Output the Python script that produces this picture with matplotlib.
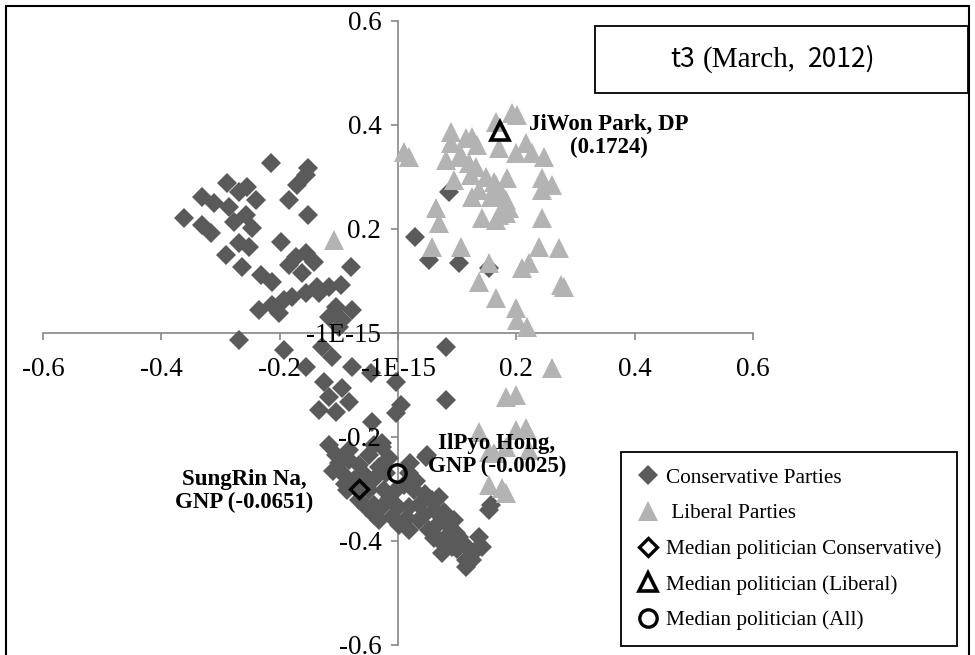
import matplotlib
matplotlib.use("Agg")
import matplotlib.pyplot as plt
from matplotlib.patches import Rectangle

# Conservative Parties (diamonds)
cons_x = [-0.215, -0.152, -0.155, -0.171, -0.184, -0.152, -0.289, -0.255, -0.240, -0.331,
          -0.311, -0.286, -0.362, -0.331, -0.316, -0.277, -0.257, -0.247, -0.269, -0.252,
          -0.291, -0.264, -0.198, -0.172, -0.155, -0.142, -0.184, -0.162, -0.079, -0.232,
          -0.213, -0.137, -0.155, -0.117, -0.096, -0.179, -0.193, -0.235, -0.213, -0.201,
          -0.105, -0.078, -0.117, -0.100, -0.269, -0.134, -0.095,
          -0.269, -0.193, -0.155, -0.128, -0.112, -0.078, -0.046, -0.125, -0.095, -0.117,
          -0.083, -0.134, -0.105, -0.003, 0.005, -0.003, -0.044, 0.081, 0.081,
          -0.105, -0.083, -0.027, -0.095, -0.054, -0.032, 0.019, -0.003, -0.027, -0.010,
          0.019, 0.035, 0.057, 0.069, 0.047, 0.069, 0.081, 0.103, 0.091, 0.074,
          0.115, 0.137, 0.142, 0.154, 0.125, 0.115, -0.027, 0.049, 0.157, 0.098,
          -0.117, -0.083, -0.066, -0.074, -0.049, -0.066, -0.041, -0.024, -0.049, 0.010,
          0.027, 0.035, 0.002, 0.019, 0.044, 0.052, 0.078, 0.095, 0.112, 0.069,
          -0.086, -0.054, -0.032,
          -0.100, -0.110, -0.090, -0.060, -0.040, -0.020, -0.015, -0.040, -0.070, -0.040,
          -0.015, 0.000, 0.015, 0.030, 0.045, 0.060, 0.085, 0.100, 0.130, 0.060, 0.020,
          0.029, 0.052, 0.103, 0.154, 0.086]
cons_y = [0.327, 0.317, 0.304, 0.285, 0.256, 0.227, 0.288, 0.281, 0.256, 0.262,
          0.250, 0.242, 0.221, 0.208, 0.192, 0.213, 0.227, 0.202, 0.173, 0.165,
          0.150, 0.127, 0.175, 0.146, 0.154, 0.137, 0.131, 0.115, 0.127, 0.112,
          0.098, 0.088, 0.077, 0.088, 0.092, 0.069, 0.063, 0.044, 0.054, 0.038,
          0.050, 0.044, 0.031, 0.012, 0.271, 0.077, 0.025,
          -0.013, -0.033, -0.065, -0.027, -0.046, -0.065, -0.077, -0.094, -0.106, -0.123,
          -0.133, -0.148, -0.152, -0.094, -0.138, -0.154, -0.171, -0.027, -0.129,
          -0.235, -0.225, -0.212, -0.269, -0.283, -0.258, -0.269, -0.302, -0.335, -0.354,
          -0.335, -0.360, -0.321, -0.315, -0.238, -0.365, -0.392, -0.392, -0.412, -0.423,
          -0.437, -0.392, -0.412, -0.340, -0.437, -0.450, -0.219, -0.235, -0.331, -0.385,
          -0.215, -0.245, -0.254, -0.283, -0.302, -0.321, -0.331, -0.302, -0.235, -0.292,
          -0.302, -0.331, -0.369, -0.379, -0.350, -0.379, -0.344, -0.360, -0.406, -0.398,
          -0.302, -0.335, -0.360,
          -0.250, -0.265, -0.290, -0.270, -0.280, -0.270, -0.240, -0.215, -0.300, -0.350,
          -0.320, -0.335, -0.355, -0.285, -0.310, -0.340, -0.370, -0.415, -0.420, -0.395, -0.250,
          0.185, 0.140, 0.135, 0.125, 0.271]

# Liberal Parties (triangles)
lib_x = [0.010, 0.019, 0.090, 0.090, 0.115, 0.125, 0.134, 0.166, 0.193, 0.201,
         0.216, 0.247, 0.081, 0.103, 0.132, 0.149, 0.162, 0.095, 0.243, 0.260,
         0.243, 0.174, 0.137, 0.125, 0.157, 0.183, 0.183, 0.142, 0.166, 0.243,
         0.064, 0.069, 0.057, 0.106, 0.238, 0.272, 0.154, 0.137, 0.166, 0.210,
         0.222, 0.281, 0.276, 0.199, 0.201, 0.218, 0.260, -0.108, 0.106, 0.120,
         0.171, 0.199, 0.226, 0.184, 0.166, 0.176, 0.188, 0.171, 0.123,
         0.183, 0.199, 0.137, 0.199, 0.216, 0.162, 0.183, 0.222, 0.154, 0.183,
         0.176, 0.154]
lib_y = [0.348, 0.338, 0.387, 0.365, 0.375, 0.377, 0.362, 0.406, 0.423, 0.419,
         0.365, 0.338, 0.333, 0.338, 0.319, 0.300, 0.290, 0.294, 0.298, 0.285,
         0.275, 0.271, 0.275, 0.262, 0.262, 0.256, 0.231, 0.221, 0.217, 0.221,
         0.240, 0.212, 0.165, 0.165, 0.165, 0.163, 0.135, 0.098, 0.067, 0.125,
         0.135, 0.088, 0.092, 0.048, 0.025, 0.012, -0.067, 0.179, 0.342, 0.327,
         0.356, 0.346, 0.346, 0.298, 0.285, 0.265, 0.240, 0.227, 0.304,
         -0.123, -0.119, -0.190, -0.187, -0.183, -0.231, -0.219, -0.225, -0.292, -0.308,
         -0.298, -0.229]

# median politicians
med_cons_x, med_cons_y = [-0.0651], [-0.300]
med_lib_x, med_lib_y = [0.1724], [0.388]
med_all_x, med_all_y = [-0.0025], [-0.269]

ticks = [-0.6, -0.4, -0.2, 0.0, 0.2, 0.4, 0.6]
tick_labels = ["-0.6", "-0.4", "-0.2", "-1E-15", "0.2", "0.4", "0.6"]

plt.rcParams['font.family'] = ['Liberation Serif', 'DejaVu Serif']

W, H = 975, 655
fig = plt.figure(figsize=(W / 100, H / 100), dpi=100)
ax = fig.add_axes([43 / W, 10 / H, 710 / W, 624 / H])
ax.set_xlim(-0.6, 0.6)
ax.set_ylim(-0.6, 0.6)
ax.patch.set_visible(False)

for s in ['top', 'right']:
    ax.spines[s].set_visible(False)
for s in ['left', 'bottom']:
    ax.spines[s].set_position(('data', 0))
    ax.spines[s].set_color('#868686')
    ax.spines[s].set_linewidth(1.2)
    ax.spines[s].set_zorder(1)

ax.set_xticks(ticks, tick_labels)
ax.set_yticks(ticks, tick_labels)
ax.tick_params(direction='out', length=5, width=1.2, color='#868686', labelsize=19.5)
ax.tick_params(axis='x', pad=12)
ax.tick_params(axis='y', pad=7)
ax.xaxis.set_zorder(4)
ax.yaxis.set_zorder(4)

ax.plot(cons_x, cons_y, 'D', ms=10.5, color='#5a5a5a', mew=0, label='Conservative Parties', zorder=2)
ax.plot(lib_x, lib_y, '^', ms=14, color='#b3b3b3', mew=0, label=' Liberal Parties', zorder=2.2)
ax.plot(med_cons_x, med_cons_y, 'D', ms=9, mfc='none', mec='black', mew=2.4,
        label='Median politician Conservative)', zorder=5)
ax.plot(med_lib_x, med_lib_y, '^', ms=13, mfc='none', mec='black', mew=2.6,
        label='Median politician (Liberal)', zorder=5)
ax.plot(med_all_x, med_all_y, 'o', ms=12.5, mfc='none', mec='black', mew=2.4,
        label='Median politician (All)', zorder=5)

ax.text(0.357, 0.379, 'JiWon Park, DP\n(0.1724)', ha='center', va='center',
        fontsize=16.5, fontweight='bold', linespacing=1.15, zorder=6)
ax.text(0.167, -0.235, 'IlPyo Hong,\nGNP (-0.0025)', ha='center', va='center',
        fontsize=16.5, fontweight='bold', linespacing=1.15, zorder=6)
ax.text(-0.260, -0.304, 'SungRin Na,\nGNP (-0.0651)', ha='center', va='center',
        fontsize=16.5, fontweight='bold', linespacing=1.15, zorder=6)

leg = ax.legend(loc='upper left', bbox_to_anchor=(621 / W, 1 - 452 / H),
                bbox_transform=fig.transFigure, frameon=True, fancybox=False,
                edgecolor='black', framealpha=1, borderpad=0.75, labelspacing=0.74,
                handlelength=1.0, handletextpad=0.35, borderaxespad=0, fontsize=15.3)
leg.get_frame().set_linewidth(1.3)
leg.set_zorder(7)

# title box
fig.add_artist(Rectangle((595 / W, 1 - 93 / H), (968 - 595) / W, 67 / H,
                         transform=fig.transFigure, fill=False, ec='black', lw=1.3))
sans = ['Noto Sans CJK KR', 'DejaVu Sans']
fig.text(670 / W, 1 - 67 / H, 't3', family=sans, fontsize=19, va='baseline')
fig.text(703 / W, 1 - 67 / H, '(March,', fontsize=21, va='baseline')
fig.text(808 / W, 1 - 67 / H, '2012)', family=sans, fontsize=19, va='baseline')

# outer frame
fig.add_artist(Rectangle((6 / W, -0.05), (969 - 6) / W, 1.05 - 6 / H,
                         transform=fig.transFigure, fill=False, ec='black', lw=1.5))

fig.savefig('out.png', dpi=100)
